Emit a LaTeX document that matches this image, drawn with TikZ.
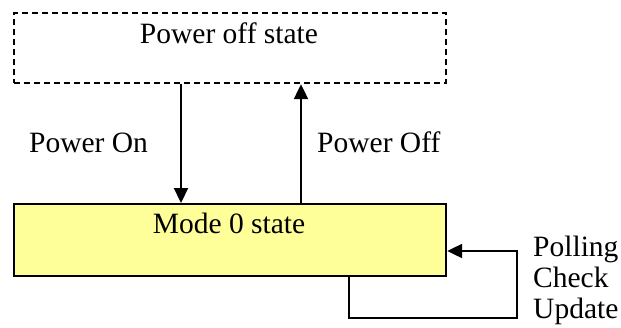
\documentclass[tikz,border=0pt]{standalone}
\usepackage{fontspec}
\setmainfont{Liberation Serif}
\usetikzlibrary{arrows.meta}
\begin{document}
\begin{tikzpicture}[x=1pt,y=-1pt,
  box/.style={draw=black,line width=2.2pt,inner sep=0pt,anchor=north west},
  arr/.style={draw=black,line width=2.2pt,-{Triangle[length=15pt,width=14pt]}},
  lbl/.style={font=\fontsize{29.5}{32}\selectfont,inner sep=0pt,anchor=base west},
  boxtxt/.style={font=\fontsize{29.5}{32}\selectfont,inner sep=0pt,anchor=base}]
\useasboundingbox (0,0) rectangle (621,327);
\node[box,dash pattern=on 6pt off 4pt,minimum width=432pt,minimum height=70pt] (top) at (13,12) {};
\node[box,fill={rgb,255:red,255;green,255;blue,153},minimum width=432pt,minimum height=72pt] (mode) at (13,203) {};
\node[boxtxt] (toptxt) at (229,43) {Power off state};
\node[boxtxt] (modetxt) at (229,233) {Mode 0 state};
\draw[arr] (top.south -| 181,0) -- (mode.north -| 181,0);
\draw[arr] (mode.north -| 301,0) -- (top.south -| 301,0);
\coordinate (lc) at (517,318);
\draw[arr] (mode.south -| 349,0) |- (lc) |- (mode.east |- 0,251);
\node[lbl] (pon) at (29,152) {Power On};
\node[lbl] (poff) at (317,152) {Power Off};
\node[lbl] (poll) at (533,256) {Polling};
\node[lbl] (chk) at (533,287) {Check};
\node[lbl] (upd) at (533,318) {Update};
\end{tikzpicture}
\end{document}
